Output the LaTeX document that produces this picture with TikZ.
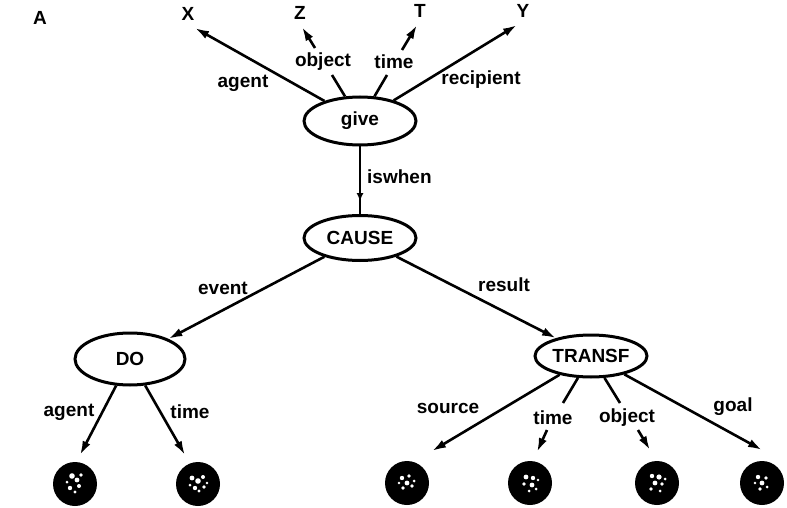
\documentclass[tikz,border=0pt]{standalone}
\usepackage{fontspec}
\setmainfont{Liberation Sans}
\usetikzlibrary{shapes.geometric,arrows.meta,decorations.markings,calc}
\begin{document}
\begin{tikzpicture}[x=1pt,y=-1pt,
  lbl/.style={font=\bfseries\fontsize{19}{22}\selectfont, inner sep=0pt},
  concept/.style={ellipse, draw, line width=3pt, minimum width=112pt, minimum height=48pt, inner sep=0pt, font=\bfseries\fontsize{19}{22}\selectfont},
  arr/.style={line width=2.6pt, -{Latex[length=14pt,width=8.5pt]}},
  ln/.style={line width=2.6pt},
  blob/.style={circle, fill=black, minimum size=44pt, inner sep=0pt},
  speck/.style={fill=white}]
\useasboundingbox (0,0) rectangle (787,508);

% concept nodes
\node[concept] (give) at (360,121) {give};
\node[concept, minimum height=45pt] (cause) at (360,238) {CAUSE};
\node[concept, minimum width=110pt, minimum height=52pt] (do) at (130,359) {DO};
\node[concept, minimum height=42pt] (transf) at (591,356) {TRANSF};

% top labels
\node[lbl] (A) at (40,18) {A};
\node[lbl] (X) at (188,14) {X};
\node[lbl] (Z) at (300,13) {Z};
\node[lbl] (T) at (420,11) {T};
\node[lbl] (Y) at (523,11) {Y};

% bottom blobs
\node[blob] (c1) at (75,484) {};
\node[blob] (c2) at (198,484) {};
\node[blob] (c3) at (407,483) {};
\node[blob] (c4) at (530,483) {};
\node[blob] (c5) at (657,483) {};
\node[blob] (c6) at (762,483) {};

% speckles
\foreach \dx/\dy/\r in {-3/-8/2.8,2/-4/2.4,4/2/2,-5/4/2.2,0/8/1.6,6/-9/1.8,-8/-2/1.5}
  \fill[speck] ($(c1)+(\dx,\dy)$) circle (\r pt);
\foreach \dx/\dy/\r in {-6/-6/2.4,0/-3/2.8,5/-7/2,-3/4/2.2,6/3/1.8,1/7/1.6,-8/1/1.5,9/-1/1.4}
  \fill[speck] ($(c2)+(\dx,\dy)$) circle (\r pt);
\foreach \dx/\dy/\r in {-5/-5/2.2,2/-7/1.8,0/0/2.4,5/3/1.8,-4/5/1.8,7/-2/1.5,-8/0/1.4}
  \fill[speck] ($(c3)+(\dx,\dy)$) circle (\r pt);
\foreach \dx/\dy/\r in {-4/-6/2.4,3/-5/2.2,-6/1/1.8,2/2/2.4,6/6/1.5,-1/8/1.5,8/-3/1.4}
  \fill[speck] ($(c4)+(\dx,\dy)$) circle (\r pt);
\foreach \dx/\dy/\r in {-5/-7/2.2,2/-6/2.6,-2/0/2.4,5/1/1.8,-6/6/1.8,3/8/1.5,8/-4/1.5}
  \fill[speck] ($(c5)+(\dx,\dy)$) circle (\r pt);
\foreach \dx/\dy/\r in {-4/-6/2.2,4/-5/1.8,0/0/2.4,-2/6/1.8,5/4/1.5,-7/0/1.4}
  \fill[speck] ($(c6)+(\dx,\dy)$) circle (\r pt);

% coordinates for free ends
\coordinate (xtip) at (195,28);
\coordinate (zo1) at (332,75);
\coordinate (zo2) at (315,48);
\coordinate (ztip) at (302,27);
\coordinate (to1) at (387,75);
\coordinate (to2) at (402,50);
\coordinate (ttip) at (417,25);
\coordinate (ytip) at (517,25);
\coordinate (a1tip) at (80,455);
\coordinate (a2tip) at (185,455);
\coordinate (stip) at (432,451);
\coordinate (tt1) at (563,403);
\coordinate (tt2) at (547,430);
\coordinate (ttip2) at (537,452);
\coordinate (ob1) at (620,403);
\coordinate (ob2) at (638,430);
\coordinate (otip) at (650,450);
\coordinate (gtip) at (762,450);

% give connectors
\draw[arr] (give) -- (xtip);
\draw[ln] (give) -- (zo1);
\draw[arr] (zo2) -- (ztip);
\draw[ln] (give) -- (to1);
\draw[arr] (to2) -- (ttip);
\draw[arr] (give) -- (ytip);
\node[lbl] (lagent) at (243,83) {agent};
\node[lbl] (lobject) at (323,62) {object};
\node[lbl] (ltime) at (394,62) {time};
\node[lbl] (lrecip) at (481,80) {recipient};

% iswhen
\draw[ln, postaction={decorate}, decoration={markings, mark=at position 0.81 with {\arrow{Latex[length=8pt,width=7pt]}}}] (give) -- (cause);
\node[lbl, anchor=west] (liswhen) at (367,177) {iswhen};

% cause connectors
\draw[arr] (cause) -- (do);
\draw[arr] (cause) -- (transf);
\node[lbl] (levent) at (223,288) {event};
\node[lbl] (lresult) at (504,285) {result};

% DO connectors
\draw[arr] (do) -- (a1tip);
\draw[arr] (do) -- (a2tip);
\node[lbl] (lagent2) at (69,412) {agent};
\node[lbl] (ltime2) at (190,412) {time};

% TRANSF connectors
\draw[arr] (transf) -- (stip);
\draw[ln] (transf) -- (tt1);
\draw[arr] (tt2) -- (ttip2);
\draw[ln] (transf) -- (ob1);
\draw[arr] (ob2) -- (otip);
\draw[arr] (transf) -- (gtip);
\node[lbl] (lsource) at (448,408) {source};
\node[lbl] (ltime3) at (553,418) {time};
\node[lbl] (lobject2) at (627,418) {object};
\node[lbl] (lgoal) at (733,407) {goal};
\end{tikzpicture}
\end{document}
